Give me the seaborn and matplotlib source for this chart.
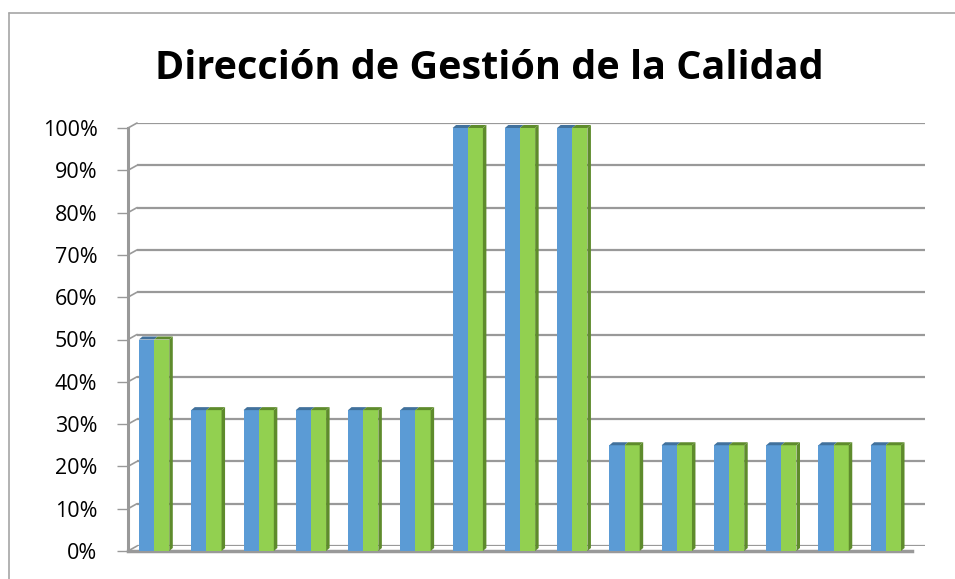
import matplotlib
matplotlib.use("Agg")
import matplotlib.pyplot as plt
from matplotlib.patches import Polygon
from matplotlib.lines import Line2D
import seaborn as sns
import pandas as pd

sns.set_style("white")
plt.rcParams['font.family'] = ['Open Sans', 'DejaVu Sans']

# one value per category, both series identical in the source chart
categories = [str(i) for i in range(1, 16)]
serie_azul = [0.50, 0.333, 0.333, 0.333, 0.333, 0.333, 1.0, 1.0, 1.0,
              0.25, 0.25, 0.25, 0.25, 0.25, 0.25]
serie_verde = [0.50, 0.333, 0.333, 0.333, 0.333, 0.333, 1.0, 1.0, 1.0,
               0.25, 0.25, 0.25, 0.25, 0.25, 0.25]
series_names = ["Serie 1", "Serie 2"]
y_ticks = [0, 0.1, 0.2, 0.3, 0.4, 0.5, 0.6, 0.7, 0.8, 0.9, 1.0]
y_labels = ["0%", "10%", "20%", "30%", "40%", "50%", "60%", "70%", "80%", "90%", "100%"]

colors = {"Serie 1": "#5B9BD5", "Serie 2": "#92D050"}
side_colors = {"Serie 1": "#41719C", "Serie 2": "#5E8B2C"}

df = pd.DataFrame({
    "cat": categories * 2,
    "valor": serie_azul + serie_verde,
    "serie": [series_names[0]] * len(categories) + [series_names[1]] * len(categories),
})

W, H = 955, 579
fig = plt.figure(figsize=(W / 100, H / 100), dpi=100)

# outer chart border (left and top visible)
fig.add_artist(Line2D([9 / W, 9 / W], [0, 1 - 13 / H], color="#a6a6a6", lw=1.2))
fig.add_artist(Line2D([9 / W, 1], [1 - 13 / H, 1 - 13 / H], color="#a6a6a6", lw=1.2))

# back wall with gridlines, shifted up/right for the 3D look
x0, x1, y0, y1 = 128, 912, 551, 128
dxp, dyp = 9, 5
back = fig.add_axes([(x0 + dxp) / W, 1 - (y0 - dyp) / H, (x1 - x0 + 4) / W, (y0 - y1) / H])
back.set_ylim(0, 1)
back.set_yticks(y_ticks)
back.set_xticks([])
back.grid(axis="y", color="#999999", lw=1.6)
back.tick_params(left=False, labelleft=False)
for s in back.spines.values():
    s.set_visible(False)
back.patch.set_alpha(0)

ax = fig.add_axes([x0 / W, 1 - y0 / H, (x1 - x0) / W, (y0 - y1) / H])
ax.patch.set_alpha(0)
sns.barplot(data=df, x="cat", y="valor", hue="serie", palette=colors,
            width=0.58, gap=0, saturation=1, ax=ax, legend=False, zorder=3,
            linewidth=0, edgecolor="none")
ax.set_ylim(0, 1)
ax.set_xlim(-0.5, len(categories) - 0.5)
ax.set_yticks(y_ticks)
ax.set_yticklabels(y_labels, fontsize=15.5, color="#000000")
ax.set_xticks([])
ax.set_xlabel("")
ax.set_ylabel("")
ax.tick_params(axis="y", left=True, length=8, width=1, color="#999999", pad=14)
for name in ["top", "right"]:
    ax.spines[name].set_visible(False)
ax.spines["left"].set_color("#999999")
ax.spines["left"].set_linewidth(2.2)
ax.spines["bottom"].set_color("#999999")
ax.spines["bottom"].set_linewidth(2.5)

# small diagonal links from front axis to back wall
xr = len(categories)
ddx = dxp * xr / (x1 - x0)
ddy = dyp / (y0 - y1)
for t in y_ticks:
    ax.plot([-0.5, -0.5 + ddx], [t, t + ddy], color="#999999", lw=1.2,
            clip_on=False, zorder=2)

# darker side faces and top caps on each bar
sx = 3.5 * xr / (x1 - x0)
sy = 3.0 / (y0 - y1)
n = len(categories)
for i, p in enumerate(ax.patches[:2 * n]):
    serie = series_names[i // n]
    bx, bw, bh = p.get_x(), p.get_width(), p.get_height()
    top = Polygon([(bx, bh), (bx + sx, bh + sy), (bx + bw + sx, bh + sy), (bx + bw, bh)],
                  closed=True, facecolor=side_colors[serie], edgecolor="none",
                  zorder=3, clip_on=False)
    ax.add_patch(top)
    if serie == "Serie 2":
        side = Polygon([(bx + bw, 0), (bx + bw + sx, sy), (bx + bw + sx, bh + sy), (bx + bw, bh)],
                       closed=True, facecolor=side_colors[serie], edgecolor="none",
                       zorder=3, clip_on=False)
        ax.add_patch(side)

fig.text(489 / W, 1 - 79 / H, "Dirección de Gestión de la Calidad",
         ha="center", va="baseline", fontsize=28.5, fontweight="bold", color="#000000")

fig.savefig("out.png", dpi=100)
